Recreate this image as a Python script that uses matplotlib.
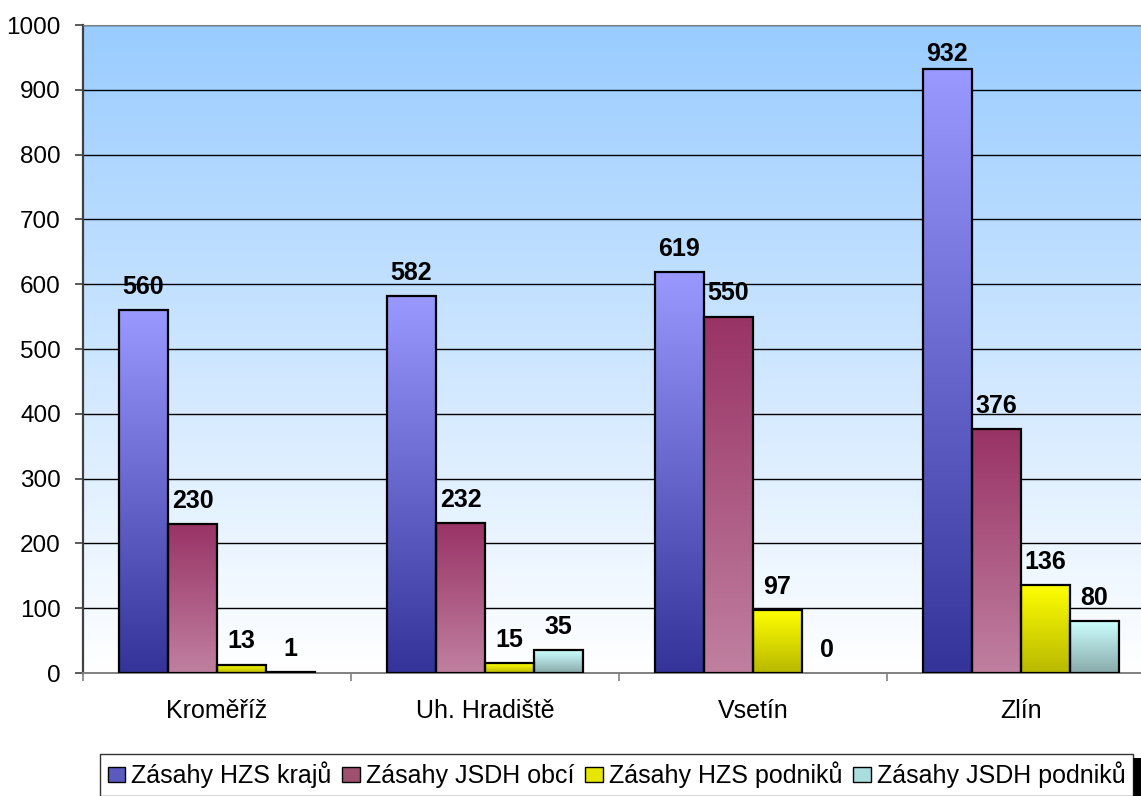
import numpy as np
import matplotlib.pyplot as plt
from matplotlib.colors import LinearSegmentedColormap
from matplotlib.patches import Patch, Rectangle

plt.rcParams['font.family'] = ['Liberation Sans', 'DejaVu Sans']

# data
districts = ['Kroměříž', 'Uh. Hradiště', 'Vsetín', 'Zlín']
series_names = ['Zásahy HZS krajů', 'Zásahy JSDH obcí', 'Zásahy HZS podniků', 'Zásahy JSDH podniků']
hzs_kraju = [560, 582, 619, 932]
jsdh_obci = [230, 232, 550, 376]
hzs_podniku = [13, 15, 97, 136]
jsdh_podniku = [1, 35, 0, 80]
series = [hzs_kraju, jsdh_obci, hzs_podniku, jsdh_podniku]

# (top colour, bottom colour) of each bar gradient
grads = [('#9999FF', '#333399'),
         ('#993366', '#C080A0'),
         ('#FFFF00', '#B8B800'),
         ('#CCFFFF', '#88AAAA')]
legend_cols = ['#5A5ABF', '#A0506F', '#E6E600', '#AADDDD']

W, H = 1141, 796
fig = plt.figure(figsize=(W / 100, H / 100), dpi=100)
# plot area runs a little past the right edge of the picture, as in the original
ax = fig.add_axes([83 / W, 1 - 673 / H, (1155 - 83) / W, (673 - 25) / H])

# background gradient, light blue at top to white at bottom
bg = LinearSegmentedColormap.from_list('bg', ['#FFFFFF', '#99CCFF'])
ax.imshow(np.linspace(0, 1, 256).reshape(-1, 1), cmap=bg, origin='lower',
          extent=(-0.5, 3.5, 0, 1000), aspect='auto', zorder=0)

# grid lines
for y in range(100, 1001, 100):
    ax.axhline(y, color='black', linewidth=1, zorder=1)

w = 0.183
for j, vals in enumerate(series):
    cmap = LinearSegmentedColormap.from_list('c%d' % j, [grads[j][1], grads[j][0]])
    for i, v in enumerate(vals):
        x0 = i + (j - 2) * w
        if v > 0:
            ax.imshow(np.linspace(0, 1, 256).reshape(-1, 1), cmap=cmap, origin='lower',
                      extent=(x0, x0 + w, 0, v), aspect='auto', zorder=2)
            ax.add_patch(Rectangle((x0, 0), w, v, fill=False, edgecolor='black',
                                   linewidth=1.6, zorder=3))
        # labels near the top get squeezed down to stay inside the plot area
        off = 8 if v < 900 else 2
        ax.annotate(str(v), (x0 + w / 2, v), xytext=(0, off), textcoords='offset points',
                    ha='center', va='bottom', fontsize=18, fontweight='bold', zorder=4)

ax.set_xlim(-0.5, 3.5)
ax.set_ylim(0, 1000)
ax.set_yticks(range(0, 1001, 100))
ax.tick_params(axis='y', direction='out', length=6, width=1.2, pad=10, labelsize=17.5, color='#404040')
ax.set_xticks(range(4))
ax.set_xticklabels(districts)
ax.set_xticks([-0.5, 0.5, 1.5, 2.5, 3.5], minor=True)
ax.tick_params(axis='x', which='major', length=0, pad=19, labelsize=18)
ax.tick_params(axis='x', which='minor', length=6, width=1.2, color='#808080')

ax.spines['left'].set_color('#404040')
ax.spines['left'].set_linewidth(1.6)
ax.spines['bottom'].set_color('#808080')
ax.spines['bottom'].set_linewidth(1.4)
ax.spines['top'].set_color('#808080')
ax.spines['right'].set_visible(False)

# legend box along the bottom, with a black shadow at its right side
lx0, lx1, ltop = 100, 1133, 754
fig.patches.append(Rectangle((lx1 / W, 0), (W - lx1) / W, 1 - (ltop + 4) / H,
                             transform=fig.transFigure, facecolor='black', zorder=0))
handles = [Patch(facecolor=c, edgecolor='black', linewidth=1) for c in legend_cols]
leg = fig.legend(handles, series_names, loc='upper left', ncol=4, mode='expand',
                 bbox_to_anchor=(lx0 / W, 1 - ltop / H - 0.2, (lx1 - lx0) / W, 0.2),
                 fontsize=18, frameon=True, fancybox=False, shadow=False,
                 edgecolor='black', handlelength=0.7, handleheight=0.55,
                 handletextpad=0.25, columnspacing=0.5, borderpad=0.3,
                 borderaxespad=0)
leg.get_frame().set_linewidth(1)
leg.get_frame().set_facecolor('white')

fig.savefig('out.png', dpi=100)
